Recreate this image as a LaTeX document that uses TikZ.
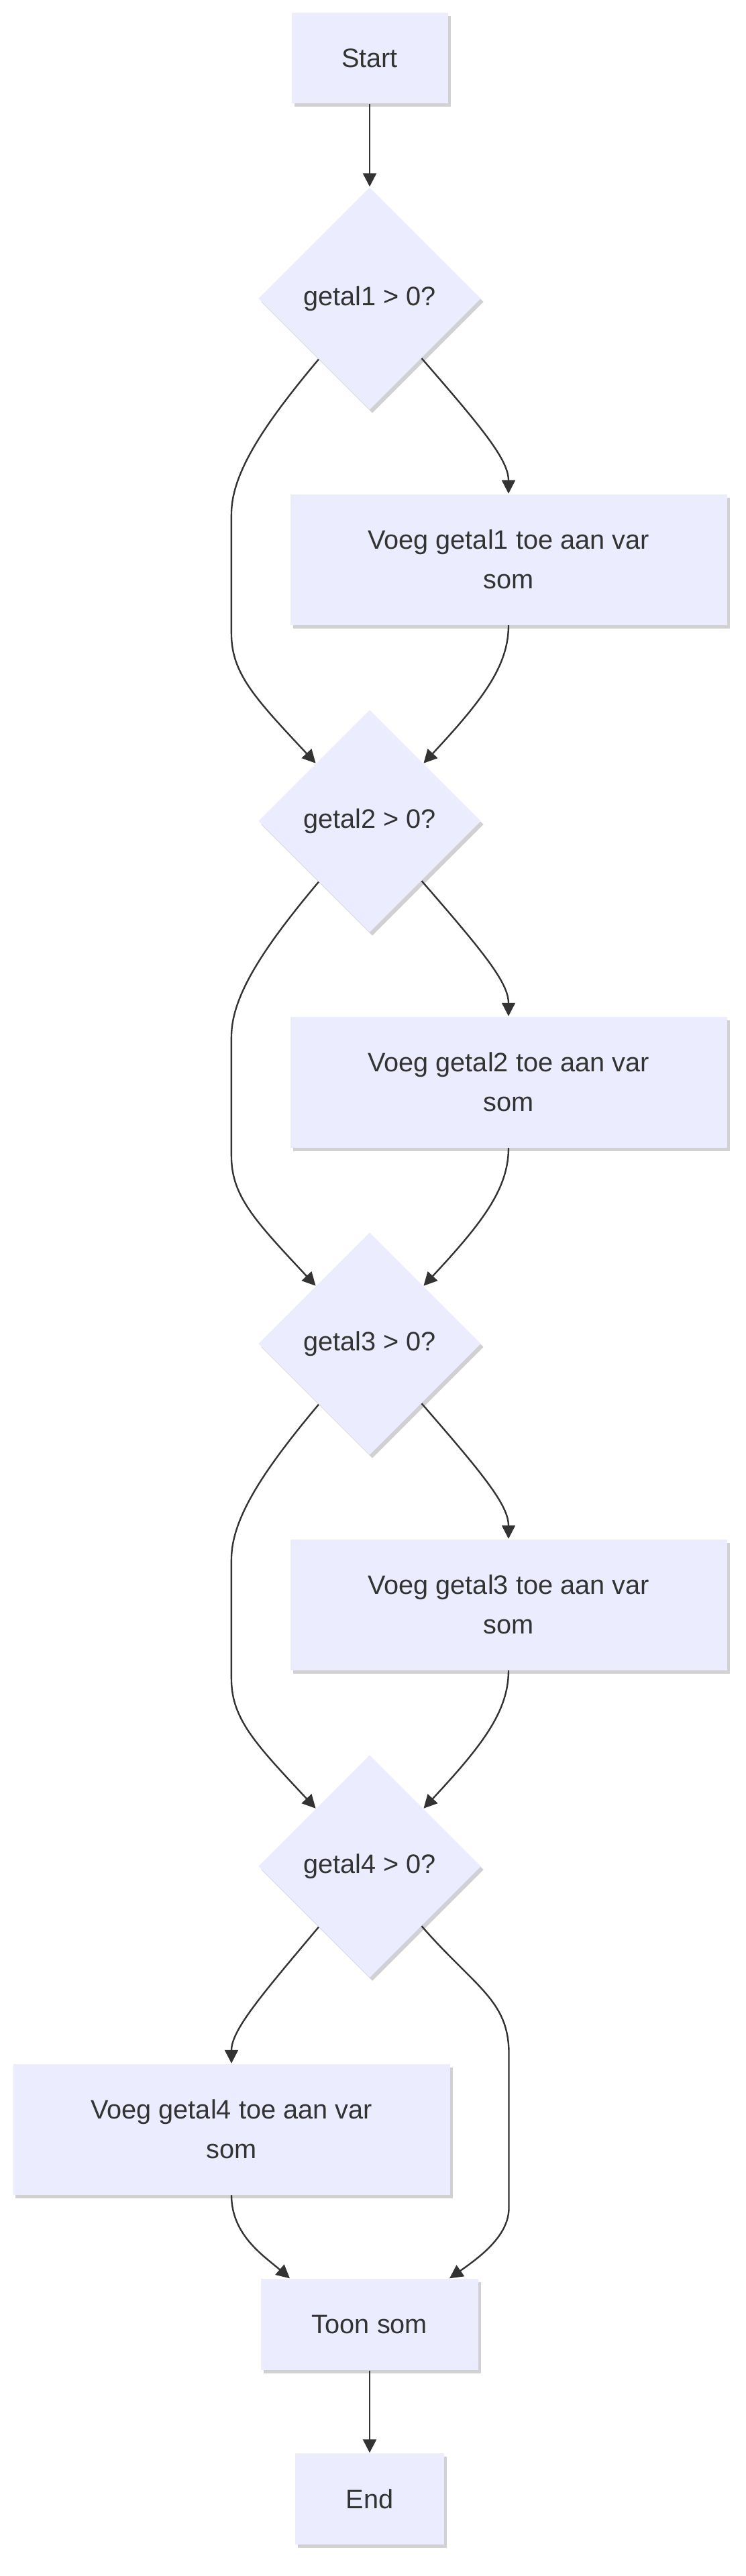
\documentclass[tikz,border=0pt]{standalone}
\usepackage{fontspec}
\setmainfont{Liberation Sans}
\usetikzlibrary{shapes,shadows}
\usetikzlibrary{arrows.meta}
\definecolor{nodefill}{RGB}{236,236,255}
\definecolor{linegray}{RGB}{51,51,51}
\tikzstyle{box}=[rectangle,fill=nodefill,text=linegray,inner sep=0pt,align=center,font=\fontsize{11.3}{16.7}\selectfont,drop shadow={shadow xshift=0.04cm,shadow yshift=-0.05cm,opacity=0.18,fill=black}]
\tikzstyle{decision}=[box,diamond,minimum width=3.32cm,minimum height=3.32cm]
\tikzstyle{voeg}=[box,minimum width=6.51cm,minimum height=1.95cm]
\tikzstyle{edge} = [draw,line width=0.68pt,linegray,-{Triangle[length=0.2cm,width=0.2cm]}]

\begin{document}
\begin{tikzpicture}

   \useasboundingbox (0,0) rectangle (11.11,-38.40);

   \node[box,minimum width=2.33cm,minimum height=1.35cm] (start) at (5.51,-0.87) {Start};

   \foreach \i in {1,...,4}
        \node[decision] (d\i) at (5.51,{-4.45-7.79*(\i-1)}) {getal\i{} > 0?};

   \foreach \i in {1,2,3}
        \node[voeg] (v\i) at (7.58,{-8.34-7.79*(\i-1)}) {Voeg getal\i{} toe aan var\\som};
   \node[voeg] (v4) at (3.45,-31.74) {Voeg getal4 toe aan var\\som};

   \node[box,minimum width=3.24cm,minimum height=1.36cm] (toon) at (5.51,-34.65) {Toon som};
   \node[box,minimum width=2.22cm,minimum height=1.36cm] (end) at (5.51,-37.25) {End};

   \path[edge] (start) -- (d1);

   \foreach \i/\j in {1/2,2/3,3/4} {
        \path[edge] (d\i.-49) .. controls +(-49:1.4) and +(0,0.5) .. (v\i.north);
        \path[edge] (d\i.230) .. controls +(230:1.3) and +(0,0.6) .. ++(-1.30,-2.31) -- ++(0,-1.78) .. controls +(0,-0.6) and +(133:1.3) .. (d\j.133);
        \path[edge] (v\i.south) .. controls +(0,-0.6) and +(47:1.3) .. (d\j.47);
   }

   \path[edge] (d4.230) .. controls +(230:1.3) and +(0,0.5) .. (v4.north);
   \path[edge] (d4.-49) .. controls +(-49:1.2) and +(0,0.8) .. ++(1.30,-1.9) -- ++(0,-2.3) .. controls +(0,-0.4) and +(35:0.6) .. (toon.30);
   \path[edge] (v4.south) .. controls +(0,-0.6) and +(139:0.5) .. (toon.150);
   \path[edge] (toon) -- (end);

\end{tikzpicture}
\end{document}
